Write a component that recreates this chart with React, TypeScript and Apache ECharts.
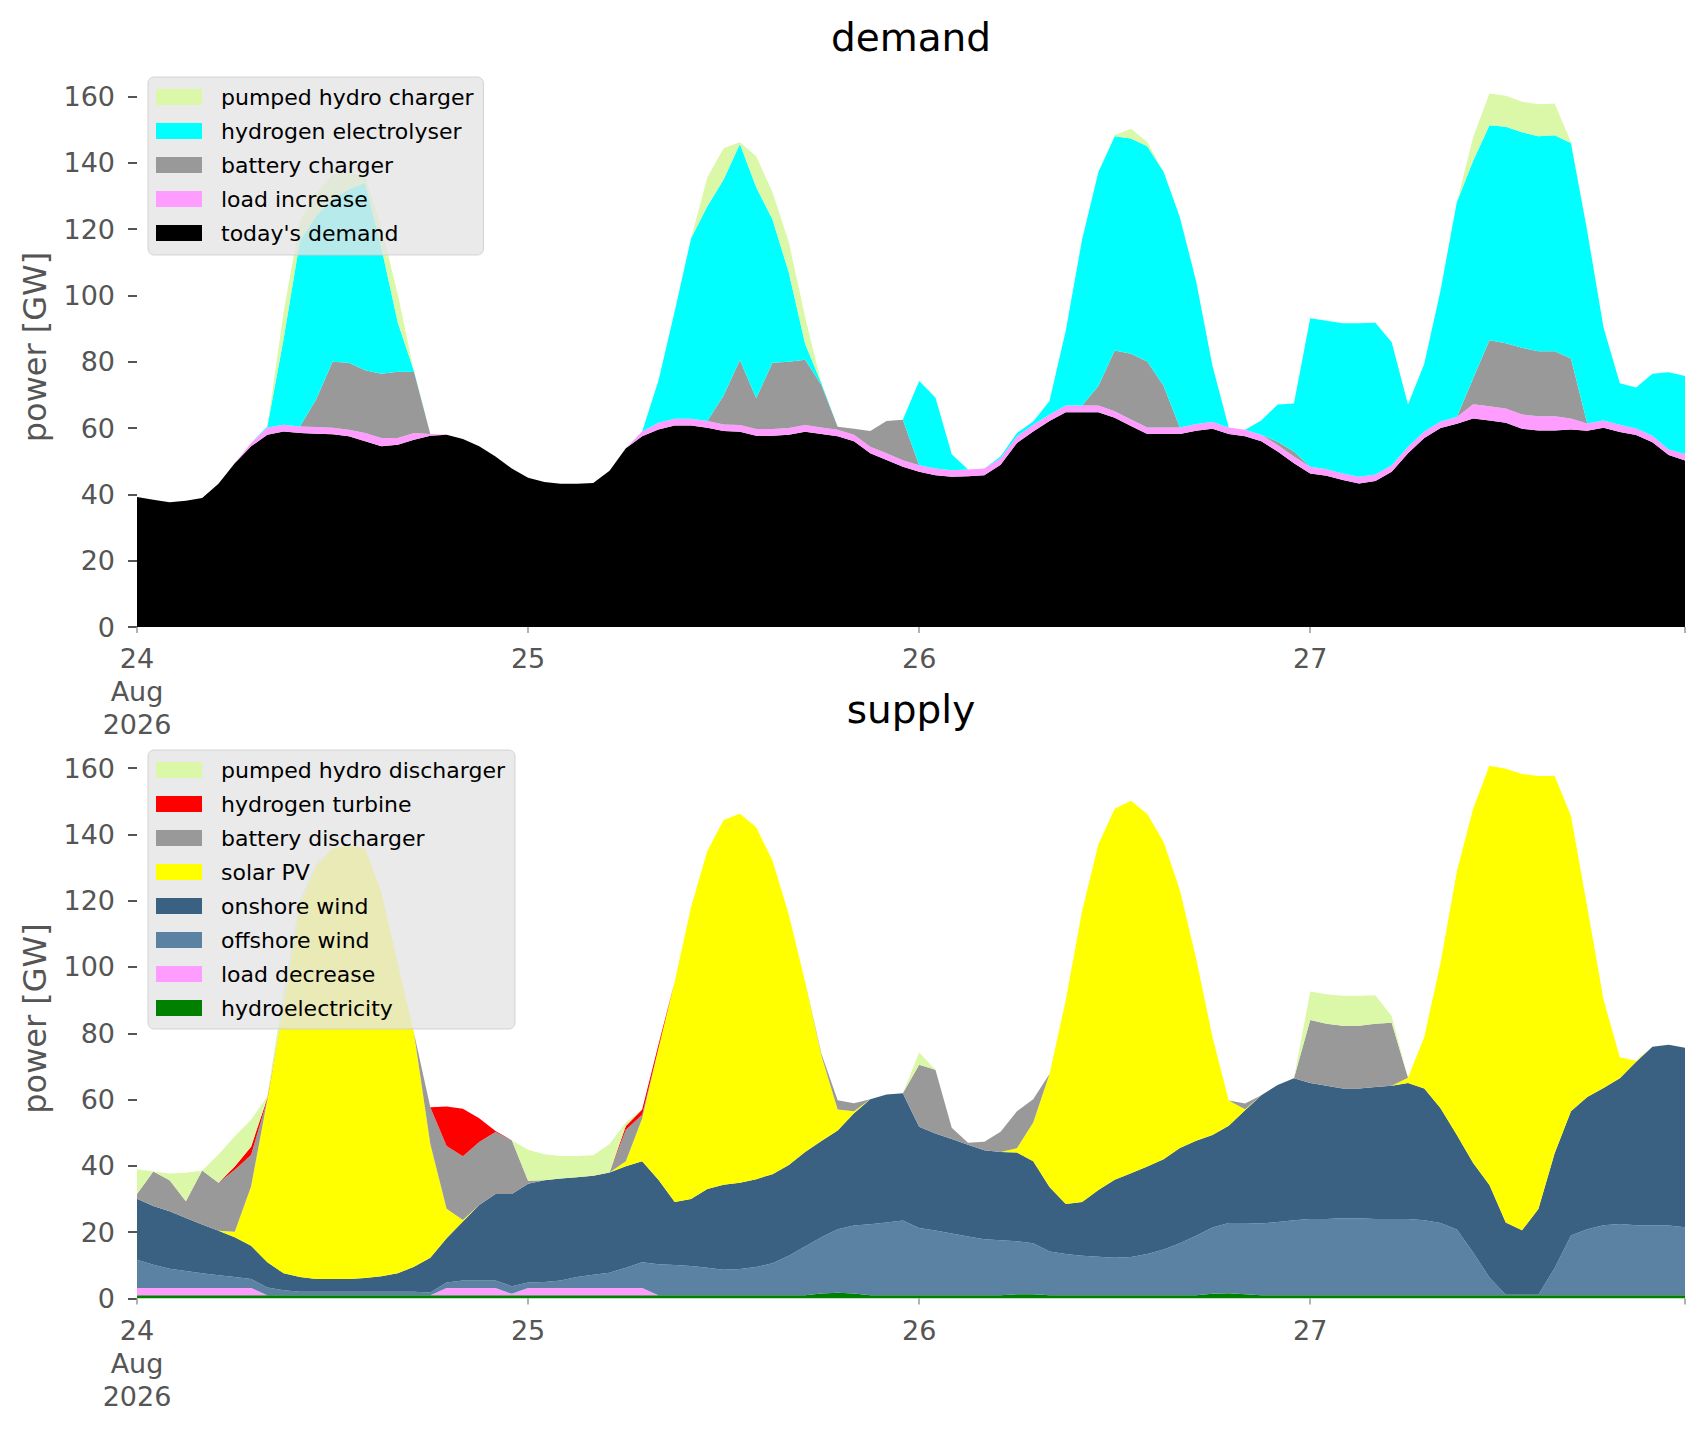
import React, { useEffect, useRef } from "react";
import * as echarts from "echarts";

// hour index from 24 Aug 2026 00:00 (96 hourly steps)
const hours: string[] = Array.from({ length: 96 }, (_, i) => String(i));
const dayTickHours = [0, 24, 48, 72];
const dayTickLabels = ["24\nAug\n2026", "25", "26", "27"];
const yTicks = [0, 20, 40, 60, 80, 100, 120, 140, 160];

// ---------------- demand (GW) ----------------
const todaysDemand = [
  39.2, 38.4, 37.6, 38.1, 38.9, 43.2, 49.4, 54.5, 58.0, 59.0, 58.5, 58.3,
  58.1, 57.5, 56.0, 54.5, 55.0, 56.5, 57.7, 58.0, 56.7, 54.5, 51.4, 47.8,
  45.0, 43.7, 43.2, 43.2, 43.4, 47.1, 53.9, 57.5, 59.6, 60.8, 60.8, 60.1,
  59.1, 58.9, 57.7, 57.7, 58.0, 58.9, 58.2, 57.5, 56.0, 52.4, 50.4, 48.3,
  46.8, 45.8, 45.3, 45.5, 45.8, 48.9, 55.5, 59.0, 62.1, 64.8, 64.8, 64.8,
  63.1, 60.6, 58.2, 58.2, 58.2, 59.2, 59.8, 58.2, 57.5, 56.0, 52.9, 49.4,
  46.3, 45.6, 44.3, 43.3, 44.0, 46.8, 52.4, 57.0, 60.0, 61.3, 62.9, 62.3,
  61.6, 59.8, 59.3, 59.3, 59.6, 59.2, 60.1, 58.8, 57.9, 55.7, 51.9, 50.2,
];
const loadIncrease = [
  0, 0, 0, 0, 0, 0, 0, 1.0, 2.2, 2.0, 2.0, 2.0,
  2.0, 2.0, 2.5, 2.5, 2.0, 2.0, 0.5, 0, 0, 0, 0, 0,
  0, 0, 0, 0, 0, 0, 0, 1.5, 2.0, 2.0, 2.0, 2.0,
  2.0, 2.0, 2.0, 2.0, 2.0, 2.0, 2.0, 2.0, 2.0, 2.0, 2.0, 2.0,
  2.0, 2.0, 2.0, 2.0, 2.0, 2.0, 2.0, 2.0, 2.0, 2.0, 2.0, 2.0,
  2.0, 2.0, 2.0, 2.0, 2.0, 2.0, 2.0, 2.0, 2.0, 2.0, 2.0, 2.0,
  2.0, 2.0, 2.0, 2.0, 2.0, 2.0, 2.0, 2.0, 2.0, 2.0, 4.3, 4.3,
  4.3, 4.3, 4.3, 4.3, 3.3, 2.2, 2.2, 2.2, 2.0, 2.0, 1.6, 2.0,
];
const batteryCharger = [
  0, 0, 0, 0, 0, 0, 0, 0, 0, 0, 0, 8.4,
  19.9, 20.2, 18.9, 19.4, 20.0, 18.4, 0, 0, 0, 0, 0, 0,
  0, 0, 0, 0, 0, 0, 0, 0, 0, 0, 0, 0,
  8.7, 19.6, 9.3, 20.0, 20.0, 19.7, 12.8, 0.9, 1.8, 4.7, 9.7, 12.2,
  0, 0, 0, 0, 0, 0, 0, 0, 0, 0, 0, 5.9,
  18.3, 19.8, 19.9, 12.6, 0, 0, 0, 0, 0, 0, 1.0, 1.5,
  0, 0, 0, 0, 0, 0, 0, 0, 0, 0, 7.8, 19.9,
  19.7, 20.1, 19.6, 19.6, 18.1, 0, 0, 0, 0, 0, 0, 0,
];
const hydrogenElectrolyser = [
  0, 0, 0, 0, 0, 0, 0, 0, 0.3, 26.0, 56.0, 55.3,
  49.0, 52.3, 56.6, 38.0, 14.9, 0.2, 0, 0, 0, 0, 0, 0,
  0, 0, 0, 0, 0, 0, 0, 0, 12.7, 32.4, 54.4, 64.8,
  65.2, 65.2, 63.6, 43.2, 26.9, 4.8, 0.5, 0, 0, 0, 0, 0,
  25.4, 21.4, 4.8, 0, 0, 0.5, 1.0, 1.0, 4.1, 22.6, 50.1, 64.5,
  64.6, 64.9, 64.9, 64.5, 63.4, 43.0, 17.0, 0, 0, 4.3, 11.2, 14.5,
  44.8, 44.8, 45.3, 46.3, 45.8, 37.1, 12.7, 20.4, 39.6, 64.9, 65.6, 64.8,
  65.3, 65.0, 64.8, 65.1, 65.0, 58.0, 28.0, 12.5, 12.3, 18.7, 23.3, 23.5,
];
const pumpedHydroCharger = [
  0, 0, 0, 0, 0, 0, 0, 0, 0, 8.0, 6.0, 7.0,
  7.5, 5.0, 2.0, 6.0, 8.5, 0, 0, 0, 0, 0, 0, 0,
  0, 0, 0, 0, 0, 0, 0, 0, 0, 0, 0, 8.7,
  9.4, 0.5, 9.4, 8.2, 9.2, 8.2, 0, 0, 0, 0, 0, 0,
  0, 0, 0, 0, 0, 0, 0, 0, 0, 0, 0, 0,
  0.3, 3.0, 1.3, 0, 0, 0, 0, 0, 0, 0, 0, 0,
  0, 0, 0, 0, 0, 0, 0, 0, 0, 0, 7.1, 9.6,
  9.3, 9.2, 9.7, 9.6, 0.3, 0, 0, 0, 0, 0, 0, 0,
];

// ---------------- supply (GW) ----------------
const hydroelectricity = [
  1, 1, 1, 1, 1, 1, 1, 1, 1, 1, 1, 1,
  1, 1, 1, 1, 1, 1, 1, 1, 1, 1, 1, 1,
  1, 1, 1, 1, 1, 1, 1, 1, 1, 1, 1, 1,
  1, 1, 1, 1, 1, 1, 1.5, 1.7, 1.5, 1, 1, 1,
  1, 1, 1, 1, 1, 1, 1.3, 1.3, 1, 1, 1, 1,
  1, 1, 1, 1, 1, 1, 1.4, 1.6, 1.3, 1, 1, 1,
  1, 1, 1, 1, 1, 1, 1, 1, 1, 1, 1, 1,
  1, 1, 1, 1, 1, 1, 1, 1, 1, 1, 1, 1,
];
const loadDecrease = [
  2.2, 2.2, 2.2, 2.2, 2.2, 2.2, 2.2, 2.2, 0, 0, 0, 0,
  0, 0, 0, 0, 0, 0, 0, 2.2, 2.2, 2.2, 2.2, 0.4,
  2.2, 2.2, 2.2, 2.2, 2.2, 2.2, 2.2, 2.2, 0, 0, 0, 0,
  0, 0, 0, 0, 0, 0, 0, 0, 0, 0, 0, 0,
  0, 0, 0, 0, 0, 0, 0, 0, 0, 0, 0, 0,
  0, 0, 0, 0, 0, 0, 0, 0, 0, 0, 0, 0,
  0, 0, 0, 0, 0, 0, 0, 0, 0, 0, 0, 0,
  0, 0, 0, 0, 0, 0, 0, 0, 0, 0, 0, 0,
];
const offshoreWind = [
  8.5, 7.0, 5.8, 5.1, 4.4, 3.8, 3.3, 2.7, 2.3, 1.5, 1.0, 1.0,
  1.0, 1.0, 1.0, 1.0, 1.0, 1.0, 0.8, 1.6, 2.2, 2.2, 2.2, 2.3,
  1.6, 1.8, 2.2, 3.3, 4.0, 4.6, 6.1, 7.7, 9.3, 9.1, 8.8, 8.3,
  7.7, 7.9, 8.5, 9.6, 11.9, 14.7, 17.0, 19.2, 20.5, 21.4, 21.9, 22.5,
  20.3, 19.5, 18.6, 17.7, 16.9, 16.6, 16.0, 15.4, 13.2, 12.4, 11.9, 11.6,
  11.3, 11.5, 12.4, 13.8, 15.7, 17.9, 20.0, 21.2, 21.5, 21.6, 22.1, 22.6,
  23.0, 23.0, 23.2, 23.2, 23.0, 23.0, 23.0, 22.6, 21.8, 19.8, 12.9, 5.3,
  0.1, 0.1, 0.1, 8.2, 18.0, 19.9, 21.1, 21.5, 21.1, 21.1, 21.0, 20.5,
];
const onshoreWind = [
  18.4, 17.7, 17.3, 16.0, 14.7, 13.4, 12.0, 10.0, 7.6, 5.1, 4.5, 3.9,
  3.9, 3.9, 4.2, 4.7, 5.6, 7.6, 10.5, 13.4, 17.8, 22.8, 26.1, 27.8,
  29.8, 30.7, 30.8, 30.1, 29.8, 30.2, 30.6, 30.5, 25.5, 19.0, 20.2, 23.7,
  25.6, 26.0, 26.5, 26.9, 27.4, 28.5, 29.0, 29.8, 33.9, 37.7, 38.6, 38.4,
  30.5, 29.3, 28.5, 27.7, 26.8, 26.6, 26.7, 24.7, 19.4, 15.1, 16.2, 20.1,
  23.5, 25.3, 26.4, 27.2, 28.7, 28.7, 27.9, 29.3, 34.0, 38.7, 41.3, 42.8,
  41.0, 40.2, 39.1, 39.1, 39.8, 40.2, 41.0, 39.7, 34.6, 28.5, 27.0, 27.9,
  21.8, 19.5, 25.9, 34.6, 37.5, 39.9, 41.4, 43.9, 49.3, 53.8, 54.5, 54.1,
];
const solarPV = [
  0, 0, 0, 0, 0, 0, 1.6, 17.9, 49.1, 80.4, 112.0, 124.4,
  129.9, 130.8, 129.6, 115.7, 93.6, 70.4, 34.3, 8.9, 0.5, 0, 0, 0,
  0, 0, 0, 0, 0, 0, 1.5, 12.9, 39.7, 66.5, 88.0, 102.0,
  110.0, 111.3, 106.1, 94.5, 75.5, 51.4, 25.8, 6.3, 0.6, 0, 0, 0,
  0, 0, 0, 0, 0, 0, 1.3, 11.7, 34.1, 61.5, 87.8, 104.3,
  111.9, 112.3, 106.3, 95.7, 77.8, 54.9, 29.6, 7.6, 0.3, 0, 0, 0,
  0, 0, 0, 0, 0, 0, 1.6, 15.6, 43.9, 79.5, 106.9, 126.5,
  136.9, 137.6, 130.6, 113.8, 89.1, 57.3, 26.6, 6.4, 0.3, 0, 0, 0,
];
const batteryDischarger = [
  1.4, 10.4, 9.4, 5.0, 16.3, 14.5, 18.7, 9.5, 0, 0, 0, 0,
  0, 0, 0, 0, 0, 0, 11.1, 18.9, 19.2, 19.0, 18.7, 16.2,
  0.9, 0, 0, 0, 0, 0, 9.5, 1.1, 0, 0, 0, 0,
  0, 0, 0, 0, 0, 0, 0.5, 2.8, 2.4, 0, 0, 0,
  18.7, 19.2, 3.4, 0.6, 2.6, 6.1, 11.2, 7.0, 0, 0, 0, 0,
  0, 0, 0, 0, 0, 0, 0, 0, 1.7, 0, 0, 0,
  19.0, 18.7, 19.0, 19.0, 19.1, 19.0, 0, 0, 0, 0, 0, 0,
  0, 0, 0, 0, 0, 0, 0, 0, 0, 0, 0, 0,
];
const hydrogenTurbine = [
  0, 0, 0, 0, 0, 0, 1.0, 2.5, 0.5, 0, 0, 0,
  0, 0, 0, 0, 0, 0, 0, 11.9, 14.3, 7.2, 0.3, 0,
  0, 0, 0, 0, 0, 0, 1.1, 1.6, 1.0, 0, 0, 0,
  0, 0, 0, 0, 0, 0, 0, 0, 0, 0, 0, 0,
  0, 0, 0, 0, 0, 0, 0, 0, 0, 0, 0, 0,
  0, 0, 0, 0, 0, 0, 0, 0, 0, 0, 0, 0,
  0, 0, 0, 0, 0, 0, 0, 0, 0, 0, 0, 0,
  0, 0, 0, 0, 0, 0, 0, 0, 0, 0, 0, 0,
];
const pumpedHydroDischarger = [
  7.5, 0, 2.0, 8.6, 0, 8.5, 9.1, 8.1, 0.5, 5.0, 2.0, 1.0,
  0, 0, 0, 0, 0, 0, 0, 0, 0, 0, 0, 0,
  9.4, 7.8, 6.8, 6.4, 6.2, 8.6, 1.1, 0, 0, 0, 0, 0,
  0, 0, 0, 0, 0, 0, 0, 0, 0, 0, 0, 0,
  3.7, 0, 0, 0, 0, 0, 0, 0, 0, 0, 0, 0,
  0, 0, 0, 0, 0, 0, 0, 0, 0, 0, 0, 0,
  8.6, 8.9, 9.0, 9.0, 8.6, 1.9, 0, 0, 0, 0, 0, 0,
  0, 0, 0, 0, 0, 0, 0, 0, 0, 0, 0, 0,
];

const C = {
  pumped: "#dbf7a8",
  h2el: "#00ffff",
  battery: "#999999",
  load: "#ff9cff",
  demand: "#000000",
  h2turb: "#ff0000",
  solar: "#ffff00",
  onshore: "#3b6182",
  offshore: "#5c82a3",
  hydro: "#008000",
};

const FONT = "DejaVu Sans";

function mk(name: string, data: number[], color: string, gi: number) {
  return {
    name,
    type: "line",
    stack: gi === 0 ? "demand" : "supply",
    stackStrategy: "all",
    xAxisIndex: gi,
    yAxisIndex: gi,
    data,
    symbol: "none",
    showSymbol: false,
    color,
    itemStyle: { color },
    lineStyle: { width: 0, color },
    areaStyle: { color, opacity: 1 },
    silent: true,
    emphasis: { disabled: true },
  };
}

const GRID_LEFT = 137;
const GRID_W = 1548;
const GRID_H = 560;
const TOPS = [67, 738.5];
const YMAX = 168.9;

function xAxis(gi: number) {
  return {
    type: "category",
    gridIndex: gi,
    data: hours,
    boundaryGap: false,
    axisLine: { show: false },
    splitLine: { show: false },
    axisTick: {
      show: true,
      length: 6,
      lineStyle: { color: "#999", width: 1.5 },
      interval: (idx: number) => dayTickHours.indexOf(idx) >= 0 || idx === 95,
    },
    axisLabel: {
      show: true,
      interval: (idx: number) => dayTickHours.indexOf(idx) >= 0,
      formatter: (_v: string, idx: number) => {
        const k = dayTickHours.indexOf(idx);
        return k >= 0 ? dayTickLabels[k] : "";
      },
      fontSize: 27,
      lineHeight: 33,
      color: "#555555",
      fontFamily: FONT,
      margin: 15,
      align: "center",
      verticalAlign: "top",
    },
  };
}

function yAxis(gi: number) {
  return {
    type: "value",
    gridIndex: gi,
    min: 0,
    max: YMAX,
    interval: 20,
    name: "power [GW]",
    nameLocation: "middle",
    nameRotate: 90,
    nameGap: 86,
    nameTextStyle: { fontSize: 32, color: "#555555", fontFamily: FONT },
    axisLine: { show: false },
    splitLine: { show: false },
    axisTick: {
      show: true,
      length: 9,
      lineStyle: { color: "#555555", width: 2 },
      customValues: yTicks,
    },
    axisLabel: {
      show: true,
      customValues: yTicks,
      fontSize: 27,
      color: "#555555",
      fontFamily: FONT,
      margin: 22,
    },
  };
}

function legend(top: number, names: string[], bottomPad: number) {
  return {
    orient: "vertical",
    left: 148,
    top,
    data: names,
    icon: "rect",
    itemWidth: 46,
    itemHeight: 16,
    itemGap: 12,
    selectedMode: false,
    padding: [9, 10, bottomPad, 8],
    backgroundColor: "rgba(229,229,229,0.8)",
    borderColor: "rgba(204,204,204,0.8)",
    borderWidth: 1,
    borderRadius: 6,
    textStyle: {
      fontSize: 22,
      lineHeight: 22,
      color: "#000000",
      fontFamily: FONT,
      padding: [0, 0, 0, 14],
    },
    z: 10,
  };
}

export default function App() {
  const ref = useRef<HTMLDivElement>(null);
  useEffect(() => {
    if (!ref.current) return;
    const chart = echarts.init(ref.current, undefined, { renderer: "svg" });
    const series = [
      mk("today's demand", todaysDemand, C.demand, 0),
      mk("load increase", loadIncrease, C.load, 0),
      mk("battery charger", batteryCharger, C.battery, 0),
      mk("hydrogen electrolyser", hydrogenElectrolyser, C.h2el, 0),
      mk("pumped hydro charger", pumpedHydroCharger, C.pumped, 0),
      mk("hydroelectricity", hydroelectricity, C.hydro, 1),
      mk("load decrease", loadDecrease, C.load, 1),
      mk("offshore wind", offshoreWind, C.offshore, 1),
      mk("onshore wind", onshoreWind, C.onshore, 1),
      mk("solar PV", solarPV, C.solar, 1),
      mk("battery discharger", batteryDischarger, C.battery, 1),
      mk("hydrogen turbine", hydrogenTurbine, C.h2turb, 1),
      mk("pumped hydro discharger", pumpedHydroDischarger, C.pumped, 1),
    ];
    chart.setOption({
      animation: false,
      backgroundColor: "#ffffff",
      textStyle: { fontFamily: FONT },
      grid: TOPS.map((t) => ({
        left: GRID_LEFT,
        top: t,
        width: GRID_W,
        height: GRID_H,
        containLabel: false,
        outerBoundsMode: "none",
      })),
      xAxis: [xAxis(0), xAxis(1)],
      yAxis: [yAxis(0), yAxis(1)],
      legend: [
        legend(77, [
          "pumped hydro charger",
          "hydrogen electrolyser",
          "battery charger",
          "load increase",
          "today's demand",
        ], 11),
        legend(750, [
          "pumped hydro discharger",
          "hydrogen turbine",
          "battery discharger",
          "solar PV",
          "onshore wind",
          "offshore wind",
          "load decrease",
          "hydroelectricity",
        ], 10),
      ],
      graphic: [
        {
          type: "text",
          x: GRID_LEFT + GRID_W / 2,
          y: 37.5,
          style: {
            text: "demand",
            fontSize: 39,
            fontFamily: FONT,
            fill: "#000000",
            align: "center",
            verticalAlign: "middle",
          },
          z: 20,
        },
        {
          type: "text",
          x: GRID_LEFT + GRID_W / 2,
          y: 709.5,
          style: {
            text: "supply",
            fontSize: 39,
            fontFamily: FONT,
            fill: "#000000",
            align: "center",
            verticalAlign: "middle",
          },
          z: 20,
        },
      ],
      series,
    });
    return () => chart.dispose();
  }, []);
  return (
    <div
      ref={ref}
      style={{ position: "absolute", left: 0, top: 0, width: 1706, height: 1431, background: "#fff" }}
    />
  );
}
